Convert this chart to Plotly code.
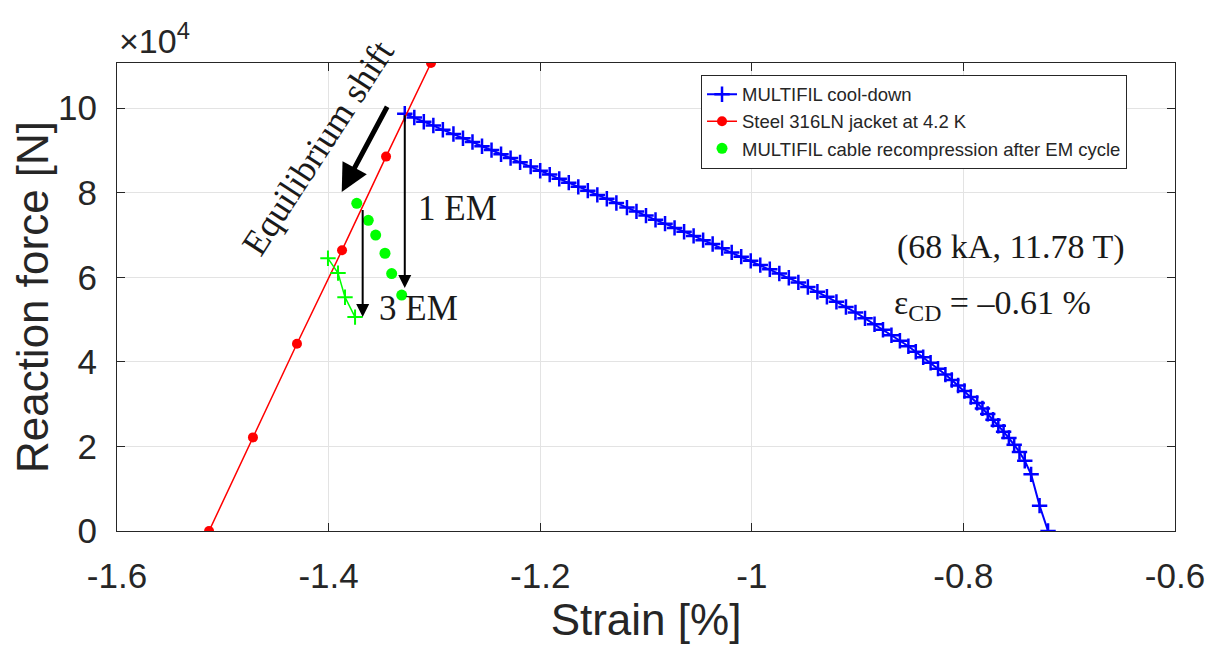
import plotly.graph_objects as go

# ---------------- data ----------------
# MULTIFIL cool-down (strain %, reaction force N/1e4)
cool_strain = [-1.328, -1.319, -1.310, -1.301, -1.292, -1.282, -1.273, -1.264, -1.255, -1.246,
               -1.237, -1.228, -1.219, -1.209, -1.200, -1.191, -1.182, -1.173, -1.164, -1.155,
               -1.146, -1.137, -1.128, -1.118, -1.109, -1.100, -1.091, -1.082, -1.073, -1.064,
               -1.055, -1.046, -1.037, -1.028, -1.019, -1.010, -1.001, -0.992, -0.983, -0.974,
               -0.965, -0.956, -0.947, -0.938, -0.929, -0.920, -0.911, -0.902, -0.893, -0.884,
               -0.876, -0.868, -0.860, -0.852, -0.845, -0.838, -0.831, -0.824, -0.817, -0.811,
               -0.805, -0.799, -0.793, -0.787, -0.782, -0.777, -0.772, -0.767, -0.762, -0.757,
               -0.752, -0.747, -0.742, -0.736, -0.728, -0.720]
cool_force_e4 = [9.87, 9.78, 9.68, 9.59, 9.49, 9.39, 9.29, 9.20, 9.10, 9.01,
                 8.91, 8.82, 8.72, 8.62, 8.52, 8.43, 8.33, 8.24, 8.14, 8.05,
                 7.95, 7.86, 7.76, 7.65, 7.56, 7.46, 7.36, 7.27, 7.17, 7.08,
                 6.98, 6.88, 6.79, 6.69, 6.59, 6.49, 6.39, 6.29, 6.19, 6.09,
                 5.99, 5.88, 5.77, 5.66, 5.54, 5.42, 5.30, 5.17, 5.03, 4.89,
                 4.76, 4.63, 4.50, 4.37, 4.24, 4.11, 3.98, 3.84, 3.70, 3.57,
                 3.44, 3.31, 3.17, 3.03, 2.90, 2.77, 2.63, 2.49, 2.35, 2.20,
                 2.04, 1.87, 1.66, 1.34, 0.60, 0.00]

# Steel 316LN jacket at 4.2 K
steel_strain = [-1.513, -1.4715, -1.4299, -1.3873, -1.3457, -1.3032]
steel_force = [0, 22140, 44280, 66420, 88560, 110700]

# MULTIFIL cable recompression after EM cycle (green dots)
recomp_strain = [-1.3734, -1.3625, -1.3555, -1.3467, -1.3404, -1.3309]
recomp_force_e4 = [7.75, 7.35, 7.00, 6.57, 6.09, 5.58]

# green "+" segment (3 EM)
em3_strain = [-1.4006, -1.3911, -1.3845, -1.3750]
em3_force_e4 = [6.45, 6.10, 5.53, 5.06]

x_ticks = [-1.6, -1.4, -1.2, -1.0, -0.8, -0.6]
x_ticktext = ["-1.6", "-1.4", "-1.2", "-1", "-0.8", "-0.6"]
y_ticks = [0, 20000, 40000, 60000, 80000, 100000]
y_ticktext = ["0", "2", "4", "6", "8", "10"]

cool_force = [v * 1e4 for v in cool_force_e4]
recomp_force = [v * 1e4 for v in recomp_force_e4]
em3_force = [v * 1e4 for v in em3_force_e4]

AX = "#262626"
SANS = "Liberation Sans, Arial, Helvetica, sans-serif"
SERIF = "Liberation Serif, Times New Roman, serif"

fig = go.Figure()
fig.add_trace(go.Scatter(
    x=cool_strain, y=cool_force, mode="lines+markers", name="MULTIFIL cool-down",
    line=dict(color="#0000ff", width=2),
    marker=dict(symbol="cross-thin", size=11, line=dict(color="#0000ff", width=2.5), color="#0000ff")))
fig.add_trace(go.Scatter(
    x=steel_strain, y=steel_force, mode="lines+markers", name="Steel 316LN jacket at 4.2 K",
    line=dict(color="#ff0000", width=1.5),
    marker=dict(symbol="circle", size=10, color="#ff0000")))
fig.add_trace(go.Scatter(
    x=recomp_strain, y=recomp_force, mode="markers",
    name="MULTIFIL cable recompression after EM cycle",
    marker=dict(symbol="circle", size=11, color="#00ff00")))
fig.add_trace(go.Scatter(
    x=em3_strain, y=em3_force, mode="lines+markers", showlegend=False,
    line=dict(color="#00ff00", width=1.5),
    marker=dict(symbol="cross-thin", size=11, line=dict(color="#00ff00", width=2), color="#00ff00")))

ann = []
# arrows
ann.append(dict(x=cool_strain[0], y=57500, ax=cool_strain[0], ay=cool_force[0],
                xref="x", yref="y", axref="x", ayref="y", text="", showarrow=True,
                arrowhead=2, arrowsize=1.3, arrowwidth=2, arrowcolor="black"))
ann.append(dict(x=-1.3678, y=50600, ax=-1.3678, ay=76300,
                xref="x", yref="y", axref="x", ayref="y", text="", showarrow=True,
                arrowhead=2, arrowsize=1.3, arrowwidth=2, arrowcolor="black"))
ann.append(dict(x=-1.3876, y=80200, ax=-1.3439, ay=100700,
                xref="x", yref="y", axref="x", ayref="y", text="", showarrow=True,
                arrowhead=2, arrowsize=1.1, arrowwidth=5, arrowcolor="black"))
# texts
ann.append(dict(x=-1.2777, y=76400, xref="x", yref="y", text="1 EM", showarrow=False,
                font=dict(family=SERIF, size=35, color="#1a1a1a")))
ann.append(dict(x=-1.3146, y=52700, xref="x", yref="y", text="3 EM", showarrow=False,
                font=dict(family=SERIF, size=35, color="#1a1a1a")))
ann.append(dict(x=-0.755, y=67100, xref="x", yref="y", text="(68 kA, 11.78 T)", showarrow=False,
                font=dict(family=SERIF, size=34, color="#1a1a1a")))
ann.append(dict(x=-0.8675, y=53400, xref="x", yref="y", xanchor="left",
                text="ε<sub>CD</sub> = –0.61 %", showarrow=False,
                font=dict(family=SERIF, size=34, color="#1a1a1a")))
ann.append(dict(x=-1.410, y=90500, xref="x", yref="y", text="Equilibrium shift", showarrow=False,
                textangle=-57, font=dict(family=SERIF, size=36, color="#1a1a1a")))
ann.append(dict(x=0.0, y=1.0, xref="paper", yref="paper", xanchor="left", yanchor="bottom",
                text="×10<sup>4</sup>", showarrow=False, yshift=1,
                font=dict(family=SANS, size=34, color=AX)))

# page body adds an 8 px offset; compensate so the plot box lands at 117..1175 x 63..531
fig.update_layout(
    width=1212, height=643,
    margin=dict(l=109, r=45, t=55, b=120),
    paper_bgcolor="white", plot_bgcolor="white",
    showlegend=True,
    legend=dict(x=0.552, y=0.975, xanchor="left", yanchor="top",
                bgcolor="white", bordercolor=AX, borderwidth=1,
                font=dict(family=SANS, size=18.5, color=AX), tracegroupgap=0),
    annotations=ann,
)
fig.update_xaxes(
    range=[-1.6, -0.6], tickvals=x_ticks, ticktext=x_ticktext,
    showgrid=True, gridcolor="#e3e3e3", gridwidth=1, zeroline=False,
    showline=True, linecolor=AX, linewidth=1, mirror="ticks",
    ticks="inside", ticklen=8, tickcolor=AX, ticklabelstandoff=14,
    tickfont=dict(family=SANS, size=35, color=AX),
    title=dict(text="Strain [%]", font=dict(family=SANS, size=44, color=AX), standoff=8),
    automargin=False,
)
fig.update_yaxes(
    range=[0, 110700], tickvals=y_ticks, ticktext=y_ticktext,
    showgrid=True, gridcolor="#e3e3e3", gridwidth=1, zeroline=False,
    showline=True, linecolor=AX, linewidth=1, mirror="ticks",
    ticks="inside", ticklen=8, tickcolor=AX, ticklabelstandoff=12,
    tickfont=dict(family=SANS, size=35, color=AX),
    title=dict(text="Reaction force [N]", font=dict(family=SANS, size=44, color=AX), standoff=0),
    automargin=False,
)

fig.write_html("out.html")
